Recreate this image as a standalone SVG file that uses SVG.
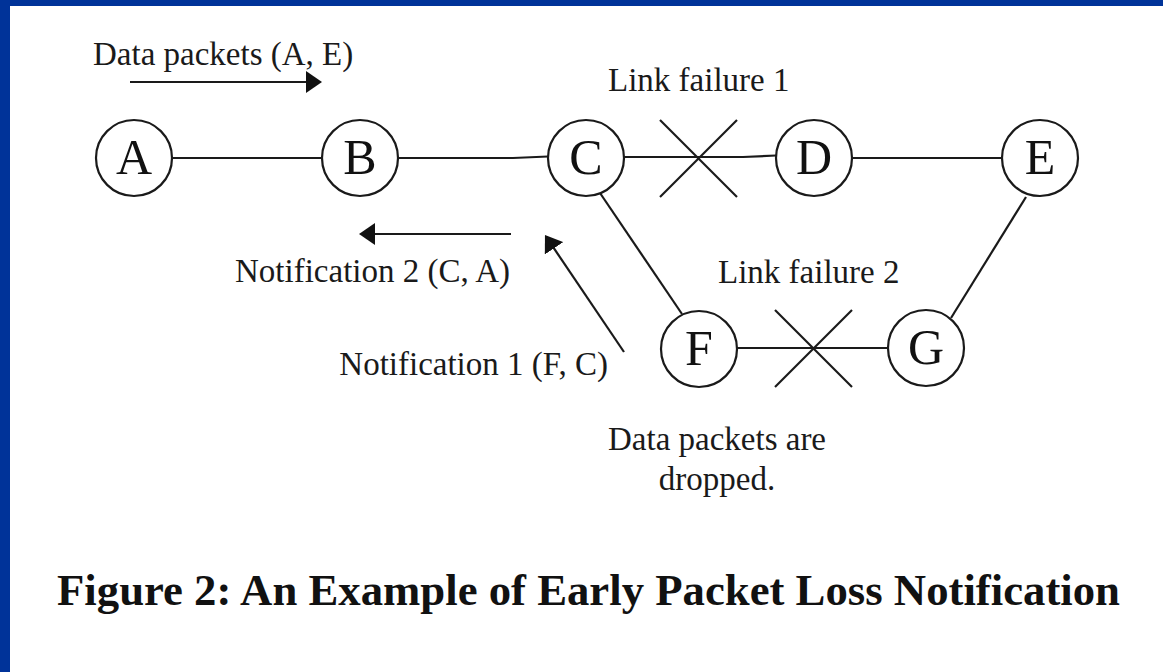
<svg xmlns="http://www.w3.org/2000/svg" width="1163" height="672" viewBox="0 0 1163 672">
  <style>
    .node circle { fill: #ffffff; stroke: #1a1a1a; stroke-width: 2.2; }
    .node text { font-family: "Liberation Serif", "Times New Roman", serif; font-size: 50px; fill: #111; text-anchor: middle; }
    .edge { fill: none; stroke: #1a1a1a; stroke-width: 2.2; }
    .arrow { fill: none; stroke: #1a1a1a; stroke-width: 2.2; marker-end: url(#head); }
    .lbl { font-family: "Liberation Serif", "Times New Roman", serif; font-size: 33px; fill: #1a1a1a; }
    .title { font-family: "Liberation Serif", "Times New Roman", serif; font-size: 45px; font-weight: bold; fill: #111; }
  </style>
  <defs>
    <marker id="head" markerUnits="userSpaceOnUse" viewBox="0 0 16 22" refX="14" refY="11" markerWidth="16" markerHeight="22" orient="auto">
      <path d="M0,0 L16,11 L0,22 Z" fill="#111"/>
    </marker>
  </defs>
  <rect x="0" y="0" width="1163" height="672" fill="#ffffff"/>
  <rect x="0" y="0" width="1163" height="6" fill="#003399"/>
  <rect x="0" y="0" width="10" height="672" fill="#003399"/>

  <g id="connectors">
    <line class="edge" x1="172" y1="158" x2="322" y2="158"/>
    <polyline class="edge" points="398,158 513,158 548,156.5"/>
    <polyline class="edge" points="624,157 743,157 776,155.5"/>
    <line class="edge" x1="852" y1="158" x2="1002" y2="158"/>
    <line class="edge" x1="600" y1="193" x2="682" y2="314"/>
    <line class="edge" x1="1026" y1="197" x2="951" y2="318"/>
    <line class="edge" x1="737" y1="348" x2="888" y2="348"/>
    <g id="failure1">
      <line class="edge" x1="660" y1="120" x2="737" y2="197"/>
      <line class="edge" x1="737" y1="120" x2="660" y2="197"/>
    </g>
    <g id="failure2">
      <line class="edge" x1="775" y1="310" x2="852" y2="387"/>
      <line class="edge" x1="852" y1="310" x2="775" y2="387"/>
    </g>
    <line class="arrow" x1="130" y1="82" x2="320" y2="82"/>
    <line class="arrow" x1="511" y1="234" x2="361" y2="234"/>
    <line class="arrow" x1="624" y1="352" x2="546.1" y2="236.7"/>
  </g>

  <g id="node-A" class="node"><circle cx="134" cy="158" r="38"/><text x="134" y="174">A</text></g>
  <g id="node-B" class="node"><circle cx="360" cy="158" r="38"/><text x="360" y="174">B</text></g>
  <g id="node-C" class="node"><circle cx="586" cy="158" r="38"/><text x="586" y="174">C</text></g>
  <g id="node-D" class="node"><circle cx="814" cy="158" r="38"/><text x="814" y="174">D</text></g>
  <g id="node-E" class="node"><circle cx="1040" cy="158" r="38"/><text x="1040" y="174">E</text></g>
  <g id="node-F" class="node"><circle cx="699" cy="349" r="38"/><text x="699" y="365">F</text></g>
  <g id="node-G" class="node"><circle cx="926" cy="348" r="38"/><text x="926" y="364">G</text></g>

  <g id="labels">
    <text class="lbl" x="93" y="65">Data packets (A, E)</text>
    <text class="lbl" x="608" y="91">Link failure 1</text>
    <text class="lbl" x="510" y="282" text-anchor="end">Notification 2 (C, A)</text>
    <text class="lbl" x="718" y="283">Link failure 2</text>
    <text class="lbl" x="608" y="375" text-anchor="end">Notification 1 (F, C)</text>
    <text class="lbl" x="717" y="450" text-anchor="middle">Data packets are</text>
    <text class="lbl" x="717" y="490" text-anchor="middle">dropped.</text>
    <text class="title" x="57" y="605" textLength="1063" lengthAdjust="spacingAndGlyphs">Figure 2: An Example of Early Packet Loss Notification</text>
  </g>
</svg>
